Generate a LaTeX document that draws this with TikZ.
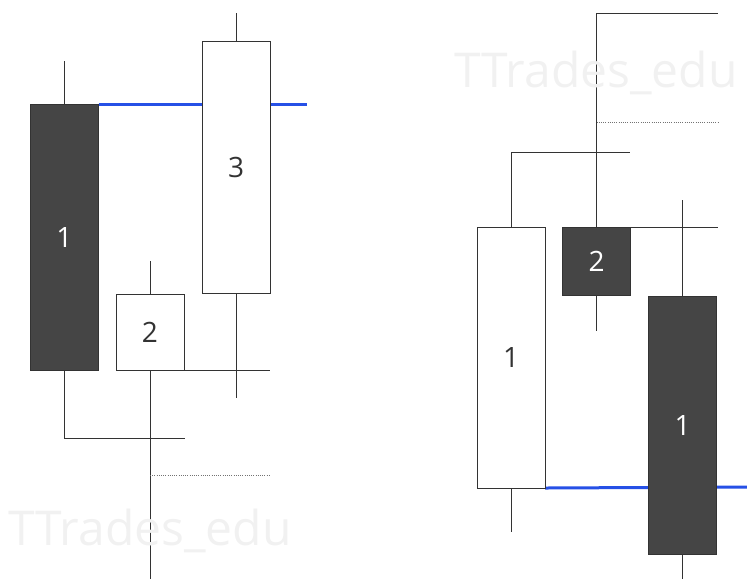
\documentclass[tikz,border=0pt]{standalone}
\usepackage{fontspec}
\setmainfont{Open Sans}
\usetikzlibrary{backgrounds}
\definecolor{candledark}{HTML}{454545}
\definecolor{levelblue}{HTML}{2650E6}
\definecolor{markgray}{HTML}{F1F1F1}

\begin{document}
\begin{tikzpicture}[x=0.5pt,y=-0.5pt,
		candle/.style={rectangle,draw=black!80,line width=0.5pt,inner sep=0pt,outer sep=0pt,minimum width=34pt,font=\fontsize{14}{14}\selectfont},
		bear/.style={candle,fill=candledark,text=white},
		bull/.style={candle,fill=white,text=black!80},
		wick/.style={draw=black!80,line width=0.5pt},
		level/.style={draw=levelblue,line width=1.5pt},
		target/.style={draw=black!55,line width=0.5pt,dash pattern=on 0.5pt off 0.6pt},
		watermark/.style={text=markgray,font=\fontsize{24}{24}\selectfont}]
	\useasboundingbox (0,0) rectangle (747,579);
	% watermarks
	\node[watermark] (w_1) at (150,531) {TTrades\_edu};
	\node[watermark] (w_2) at (596,73) {TTrades\_edu};
	% left pattern
	\node[bear,minimum height=133pt] (l_1) at (64.5,237) {1};
	\node[bull,minimum height=38pt] (l_2) at (150,332) {2};
	\node[bull,minimum height=126pt] (l_3) at (236,167) {3};
	\coordinate (l_1hi) at (64.5,61);
	\coordinate (l_1lo) at (64.5,438);
	\coordinate (l_1end) at (185,438);
	\coordinate (l_2hi) at (150,261);
	\coordinate (l_2lo) at (150,579);
	\coordinate (l_2end) at (270,370);
	\coordinate (l_3hi) at (236,13);
	\coordinate (l_3lo) at (236,398);
	\coordinate (l_t1) at (150,475);
	\coordinate (l_t2) at (270,475);
	\coordinate (l_lvl) at (307,104);
	% right pattern
	\node[bull,minimum height=130.5pt] (r_1) at (511,357.5) {1};
	\node[bear,minimum height=34pt] (r_2) at (596.5,261) {2};
	\node[bear,minimum height=129pt] (r_3) at (682.5,425) {1};
	\coordinate (r_1hi) at (511,152);
	\coordinate (r_1end) at (630,152);
	\coordinate (r_1lo) at (511,532);
	\coordinate (r_2hi) at (596.5,13);
	\coordinate (r_2end) at (718,13);
	\coordinate (r_2lo) at (596.5,331);
	\coordinate (r_2side) at (718,227);
	\coordinate (r_t1) at (596.5,122);
	\coordinate (r_t2) at (718,122);
	\coordinate (r_3hi) at (682.5,200);
	\coordinate (r_3lo) at (682.5,579);
	\coordinate (r_lvl) at (747,487);
	\begin{pgfonlayer}{background}
		\path[level] (l_1.north east) -- (l_lvl);
		\path[level] (r_1.south east) -- (r_lvl);
		\path[wick] (l_1.north) -- (l_1hi);
		\path[wick] (l_1.south) -- (l_1lo) -- (l_1end);
		\path[wick] (l_2.north) -- (l_2hi);
		\path[wick] (l_2.south) -- (l_2lo);
		\path[wick] (l_2.south east) -- (l_2end);
		\path[wick] (l_3.north) -- (l_3hi);
		\path[wick] (l_3.south) -- (l_3lo);
		\path[target] (l_t1) -- (l_t2);
		\path[wick] (r_1.north) -- (r_1hi) -- (r_1end);
		\path[wick] (r_1.south) -- (r_1lo);
		\path[wick] (r_2.north) -- (r_2hi) -- (r_2end);
		\path[wick] (r_2.south) -- (r_2lo);
		\path[wick] (r_2.north east) -- (r_2side);
		\path[target] (r_t1) -- (r_t2);
		\path[wick] (r_3.north) -- (r_3hi);
		\path[wick] (r_3.south) -- (r_3lo);
	\end{pgfonlayer}
\end{tikzpicture}
\end{document}
